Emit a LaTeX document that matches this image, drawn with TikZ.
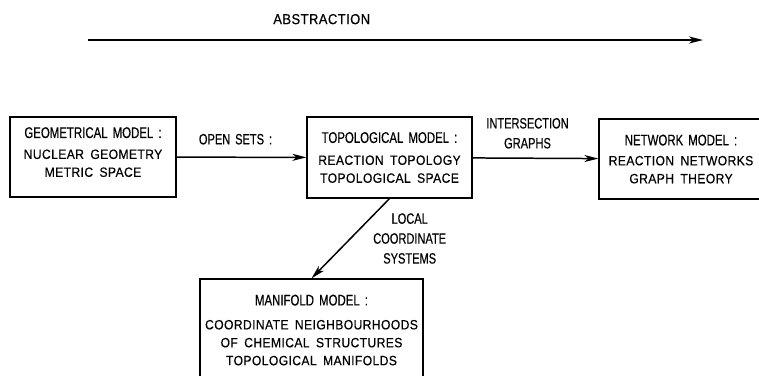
\documentclass[tikz,border=0pt]{standalone}
\usepackage{fontspec}
\usepackage{tikz}
\usetikzlibrary{arrows,arrows.meta,shapes,positioning}
\newfontfamily\bodyfont[LetterSpace=3,WordSpace=1.7,FakeStretch=0.9,FakeBold=0.4]{Liberation Sans}
\newfontfamily\headfont[FakeStretch=0.74,WordSpace=1.6,FakeBold=0.4]{Liberation Sans}

\begin{document}
\begin{tikzpicture}[x=1bp,y=-1bp,
   model/.style={draw,line width=1.2pt,inner sep=0pt,align=center,
      font=\bodyfont\fontsize{13.5}{18}\selectfont},
   flow/.style={line width=1.5pt,-{Stealth[length=14bp,width=7bp,inset=4bp]}},
   lbl/.style={font=\headfont\fontsize{15}{20}\selectfont,align=center,inner sep=0pt}]
\useasboundingbox (0,0) rectangle (759,375);
% title arrow
\coordinate (absstart) at (88,40);
\coordinate (absend) at (703,40);
\draw[flow](absstart)--(absend)node[pos=0.38,above=15bp,inner sep=0pt,
   font=\bodyfont\fontsize{14.5}{15}\selectfont](abstr){ABSTRACTION};
% models
\node[model,minimum width=166bp,minimum height=80bp] (geo) at (93,157)
   {{\headfont\fontsize{15.5}{18}\selectfont GEOMETRICAL MODEL :}\\[3pt]
    NUCLEAR GEOMETRY\\ METRIC SPACE\\[-8pt]};
\node[model,minimum width=165bp,minimum height=81bp] (topo) at (389.5,157.5)
   {{\headfont\fontsize{15.5}{18}\selectfont TOPOLOGICAL MODEL :}\\[4pt]
    REACTION TOPOLOGY\\ TOPOLOGICAL SPACE};
\node[model,minimum width=164bp,minimum height=80bp] (net) at (681,159)
   {{\headfont\fontsize{15.5}{18}\selectfont NETWORK MODEL :}\\[2pt]
    REACTION NETWORKS\\ GRAPH THEORY};
\node[model,minimum width=223bp,minimum height=102bp] (mani) at (311.5,330)
   {{\headfont\fontsize{15.5}{18}\selectfont MANIFOLD MODEL :}\\[6pt]
    COORDINATE NEIGHBOURHOODS\\ OF CHEMICAL STRUCTURES\\ TOPOLOGICAL MANIFOLDS};
% connectors
\draw[flow](geo)--(topo)node[midway,above=12bp,xshift=-6bp,lbl](opensets){OPEN SETS :};
\draw[flow](topo)--(net)node[midway,above=9bp,xshift=-8bp,lbl](inters){INTERSECTION\\ GRAPHS};
\draw[flow](topo.south)--(mani.north)node[midway,right=22bp,lbl](localcs){LOCAL\\ COORDINATE\\ SYSTEMS};
\end{tikzpicture}
\end{document}
